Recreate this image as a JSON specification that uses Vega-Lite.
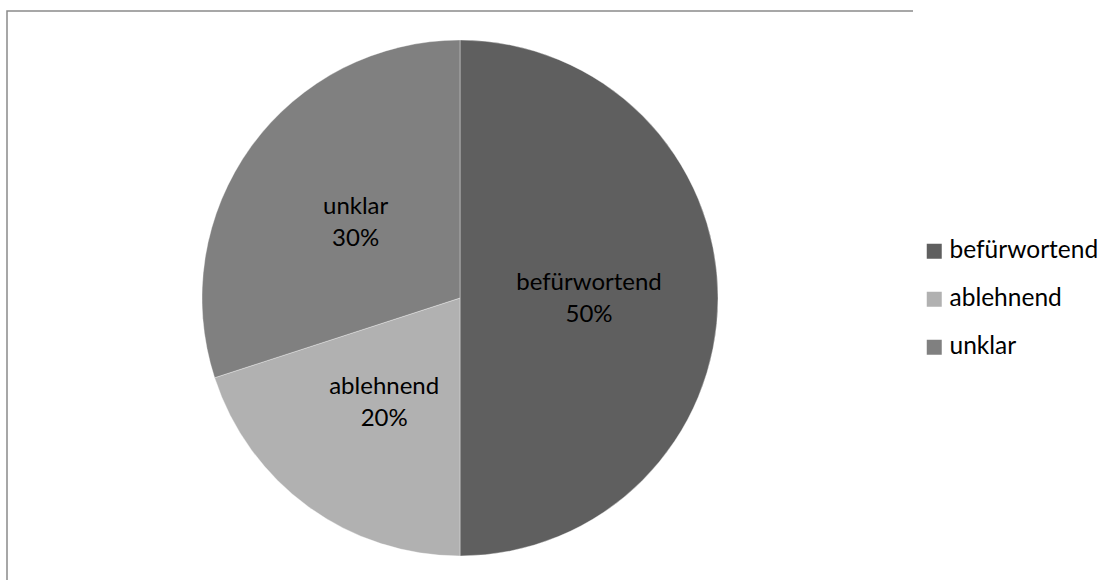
{
  "$schema": "https://vega.github.io/schema/vega-lite/v6.json",
  "autosize": "none",
  "padding": {"left": 7, "top": 11, "right": 205, "bottom": -5},
  "width": 906,
  "height": 574,
  "background": "white",
  "view": {"stroke": "#8a8a8a", "strokeWidth": 1.5, "strokeDash": [906, 574, 2000, 0]},
  "config": {
    "font": "Lato"
  },
  "data": {
    "values": [
      {"Haltung": "befürwortend", "Anteil": 0.5, "Reihenfolge": 1},
      {"Haltung": "ablehnend", "Anteil": 0.2, "Reihenfolge": 2},
      {"Haltung": "unklar", "Anteil": 0.3, "Reihenfolge": 3}
    ]
  },
  "encoding": {
    "theta": {"field": "Anteil", "type": "quantitative", "stack": true},
    "order": {"field": "Reihenfolge", "type": "quantitative"},
    "color": {
      "field": "Haltung",
      "type": "nominal",
      "sort": ["befürwortend", "ablehnend", "unklar"],
      "scale": {
        "domain": ["befürwortend", "ablehnend", "unklar"],
        "range": ["#5f5f5f", "#b1b1b1", "#808080"]
      },
      "legend": {
        "title": null,
        "orient": "none",
        "legendX": 915,
        "legendY": 228,
        "padding": 0,
        "symbolType": "square",
        "symbolSize": 225,
        "symbolStrokeWidth": 0,
        "symbolOpacity": 1,
        "labelFont": "Lato",
        "labelFontSize": 24.5,
        "labelColor": "#000000",
        "labelOffset": 3,
        "rowPadding": 23
      }
    }
  },
  "layer": [
    {
      "mark": {"type": "arc", "outerRadius": 258, "stroke": "#ffffff", "strokeOpacity": 0.35, "strokeWidth": 1}
    },
    {
      "mark": {"type": "text", "radius": 129, "fontSize": 24, "color": "#000000", "dy": -15},
      "encoding": {
        "text": {"field": "Haltung", "type": "nominal"},
        "color": {"value": "#000000"}
      }
    },
    {
      "mark": {"type": "text", "radius": 129, "fontSize": 24, "color": "#000000", "dy": 17},
      "encoding": {
        "text": {"field": "Anteil", "type": "quantitative", "format": ".0%"},
        "color": {"value": "#000000"}
      }
    }
  ]
}
